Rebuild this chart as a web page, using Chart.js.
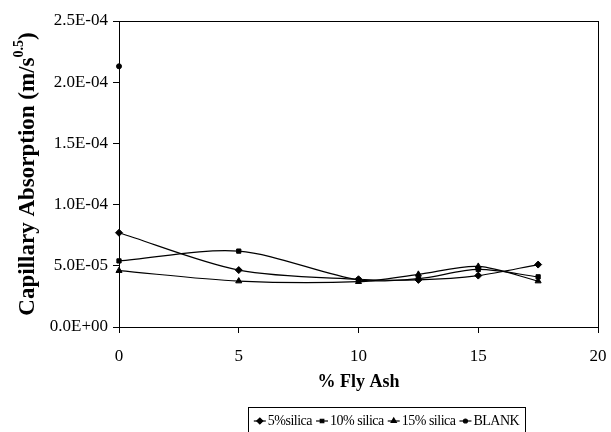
<!DOCTYPE html>
<html>
<head>
<meta charset="utf-8">
<script src="https://cdn.jsdelivr.net/npm/chart.js@4.4.1/dist/chart.umd.min.js"></script>
<style>
  html, body { margin: 0; padding: 0; background: #fff; }
  #wrap { width: 611px; height: 432px; }
</style>
</head>
<body>
<div id="wrap"><canvas id="myChart"></canvas></div>
<script>
// % fly ash on the x axis
var flyAsh = [0, 5, 10, 12.5, 15, 17.5]

// capillary absorption (m/s^0.5)
var silica5 = [7.7e-5, 4.65e-5, 3.9e-5, 3.85e-5, 4.2e-5, 5.1e-5]
var silica10 = [5.4e-5, 6.2e-5, 3.85e-5, 3.95e-5, 4.7e-5, 4.1e-5]
var silica15 = [4.6e-5, 3.75e-5, 3.7e-5, 4.3e-5, 4.95e-5, 3.75e-5]
var blankX = [0]
var blank = [2.13e-4]

var yTicks = [0, 5e-5, 1e-4, 1.5e-4, 2e-4, 2.5e-4]
var xTicks = [0, 5, 10, 15, 20]

var labels = ['5%silica', '10% silica', '15% silica', 'BLANK']

var serif = '"Liberation Serif", "Times New Roman", serif'

function pts(xs, ys) {
  return xs.map((x, i) => ({ x: x, y: ys[i] }))
}

function sci(v) {
  var s = Number(v).toExponential(1).split('e')
  var e = parseInt(s[1], 10)
  var ex = Math.abs(e) < 10 ? '0' + Math.abs(e) : '' + Math.abs(e)
  return s[0] + 'E' + (e < 0 ? '-' : '+') + ex
}

function ds(label, xs, ys, style, r) {
  return {
    label: label,
    data: pts(xs, ys),
    borderColor: '#000',
    backgroundColor: '#000',
    borderWidth: 1.2,
    pointStyle: style,
    pointRadius: r,
    pointBorderWidth: 1,
    tension: 0.3,
    clip: false
  }
}

// plot frame, y title with superscript and the boxed legend
const extras = {
  id: 'extras',
  beforeDatasetsDraw(chart) {
    var a = chart.chartArea, ctx = chart.ctx
    ctx.save()
    ctx.strokeStyle = '#000'
    ctx.lineWidth = 1
    ctx.strokeRect(a.left + 0.5, a.top + 0.5, a.right - a.left, a.bottom - a.top)
    ctx.restore()
  },
  afterDraw(chart) {
    var ctx = chart.ctx
    ctx.save()
    ctx.fillStyle = '#000'
    // y axis title
    var big = 'bold 23px ' + serif, small = 'bold 14px ' + serif
    var p1 = 'Capillary Absorption (m/s', p2 = '0.5', p3 = ')'
    ctx.font = big
    var w1 = ctx.measureText(p1).width, w3 = ctx.measureText(p3).width
    ctx.font = small
    var w2 = ctx.measureText(p2).width
    var tot = w1 + w2 + w3
    ctx.translate(28, (chart.chartArea.top + chart.chartArea.bottom) / 2)
    ctx.rotate(-Math.PI / 2)
    ctx.textBaseline = 'middle'
    ctx.textAlign = 'left'
    ctx.font = big
    ctx.fillText(p1, -tot / 2, 0)
    ctx.font = small
    ctx.fillText(p2, -tot / 2 + w1, -9)
    ctx.font = big
    ctx.fillText(p3, -tot / 2 + w1 + w2, 0)
    ctx.restore()

    // legend
    ctx.save()
    ctx.font = '14px ' + serif
    ctx.letterSpacing = '-0.5px'
    ctx.strokeStyle = '#000'
    ctx.fillStyle = '#000'
    var sets = chart.data.datasets
    var lineLen = 12, gap = 2, itemGap = 4
    var widths = sets.map(d => lineLen + gap + ctx.measureText(d.label).width)
    var total = widths.reduce((s, w) => s + w, 0) + itemGap * (sets.length - 1)
    var boxL = 248, boxR = 525, boxT = 407, cy = 421
    ctx.lineWidth = 1
    ctx.strokeRect(boxL + 0.5, boxT + 0.5, boxR - boxL, 40)
    var x = (boxL + boxR) / 2 - total / 2
    sets.forEach((d, i) => {
      ctx.beginPath()
      ctx.lineWidth = 1.2
      ctx.moveTo(x, cy)
      ctx.lineTo(x + lineLen, cy)
      ctx.stroke()
      Chart.helpers.drawPoint(ctx, {
        pointStyle: d.pointStyle, radius: d.pointRadius - 0.5, rotation: 0, borderWidth: 1
      }, x + lineLen / 2, cy)
      ctx.textBaseline = 'middle'
      ctx.textAlign = 'left'
      ctx.fillText(d.label, x + lineLen + gap, cy)
      x += widths[i] + itemGap
    })
    ctx.restore()
  }
}

const data = {
  datasets: [
    ds(labels[0], flyAsh, silica5, 'rectRot', 3.5),
    ds(labels[1], flyAsh, silica10, 'rect', 3),
    ds(labels[2], flyAsh, silica15, 'triangle', 3.5),
    ds(labels[3], blankX, blank, 'circle', 2.5)
  ]
}

const config = {
  type: 'line',
  data: data,
  options: {
    responsive: true,
    maintainAspectRatio: false,
    animation: false,
    devicePixelRatio: 1,
    layout: { padding: { left: 0, top: 21, right: 13, bottom: 35 } },
    plugins: { legend: { display: false }, tooltip: { enabled: false } },
    scales: {
      x: {
        type: 'linear',
        min: 0,
        max: 20,
        afterBuildTicks: s => { s.ticks = xTicks.map(v => ({ value: v })) },
        afterFit: s => { s.height = 70; s.paddingLeft = 0; s.paddingRight = 0 },
        grid: { drawOnChartArea: false, drawTicks: true, tickLength: 6, tickColor: '#000' },
        border: { display: true, color: '#000', width: 1 },
        ticks: { color: '#000', font: { family: serif, size: 17 }, padding: 13 },
        title: {
          display: true,
          text: '% Fly Ash',
          color: '#000',
          font: { family: serif, size: 18, weight: 'bold' },
          padding: { top: 0, bottom: 4 }
        }
      },
      y: {
        min: 0,
        max: 2.5e-4,
        afterBuildTicks: s => { s.ticks = yTicks.map(v => ({ value: v })) },
        afterFit: s => { s.width = 119 },
        grid: { drawOnChartArea: false, drawTicks: true, tickLength: 6, tickColor: '#000' },
        border: { display: true, color: '#000', width: 1 },
        ticks: { color: '#000', font: { family: serif, size: 17 }, padding: 5, callback: v => sci(v) }
      }
    }
  },
  plugins: [extras]
}

const myChart = new Chart(document.getElementById('myChart'), config)
</script>
</body>
</html>
